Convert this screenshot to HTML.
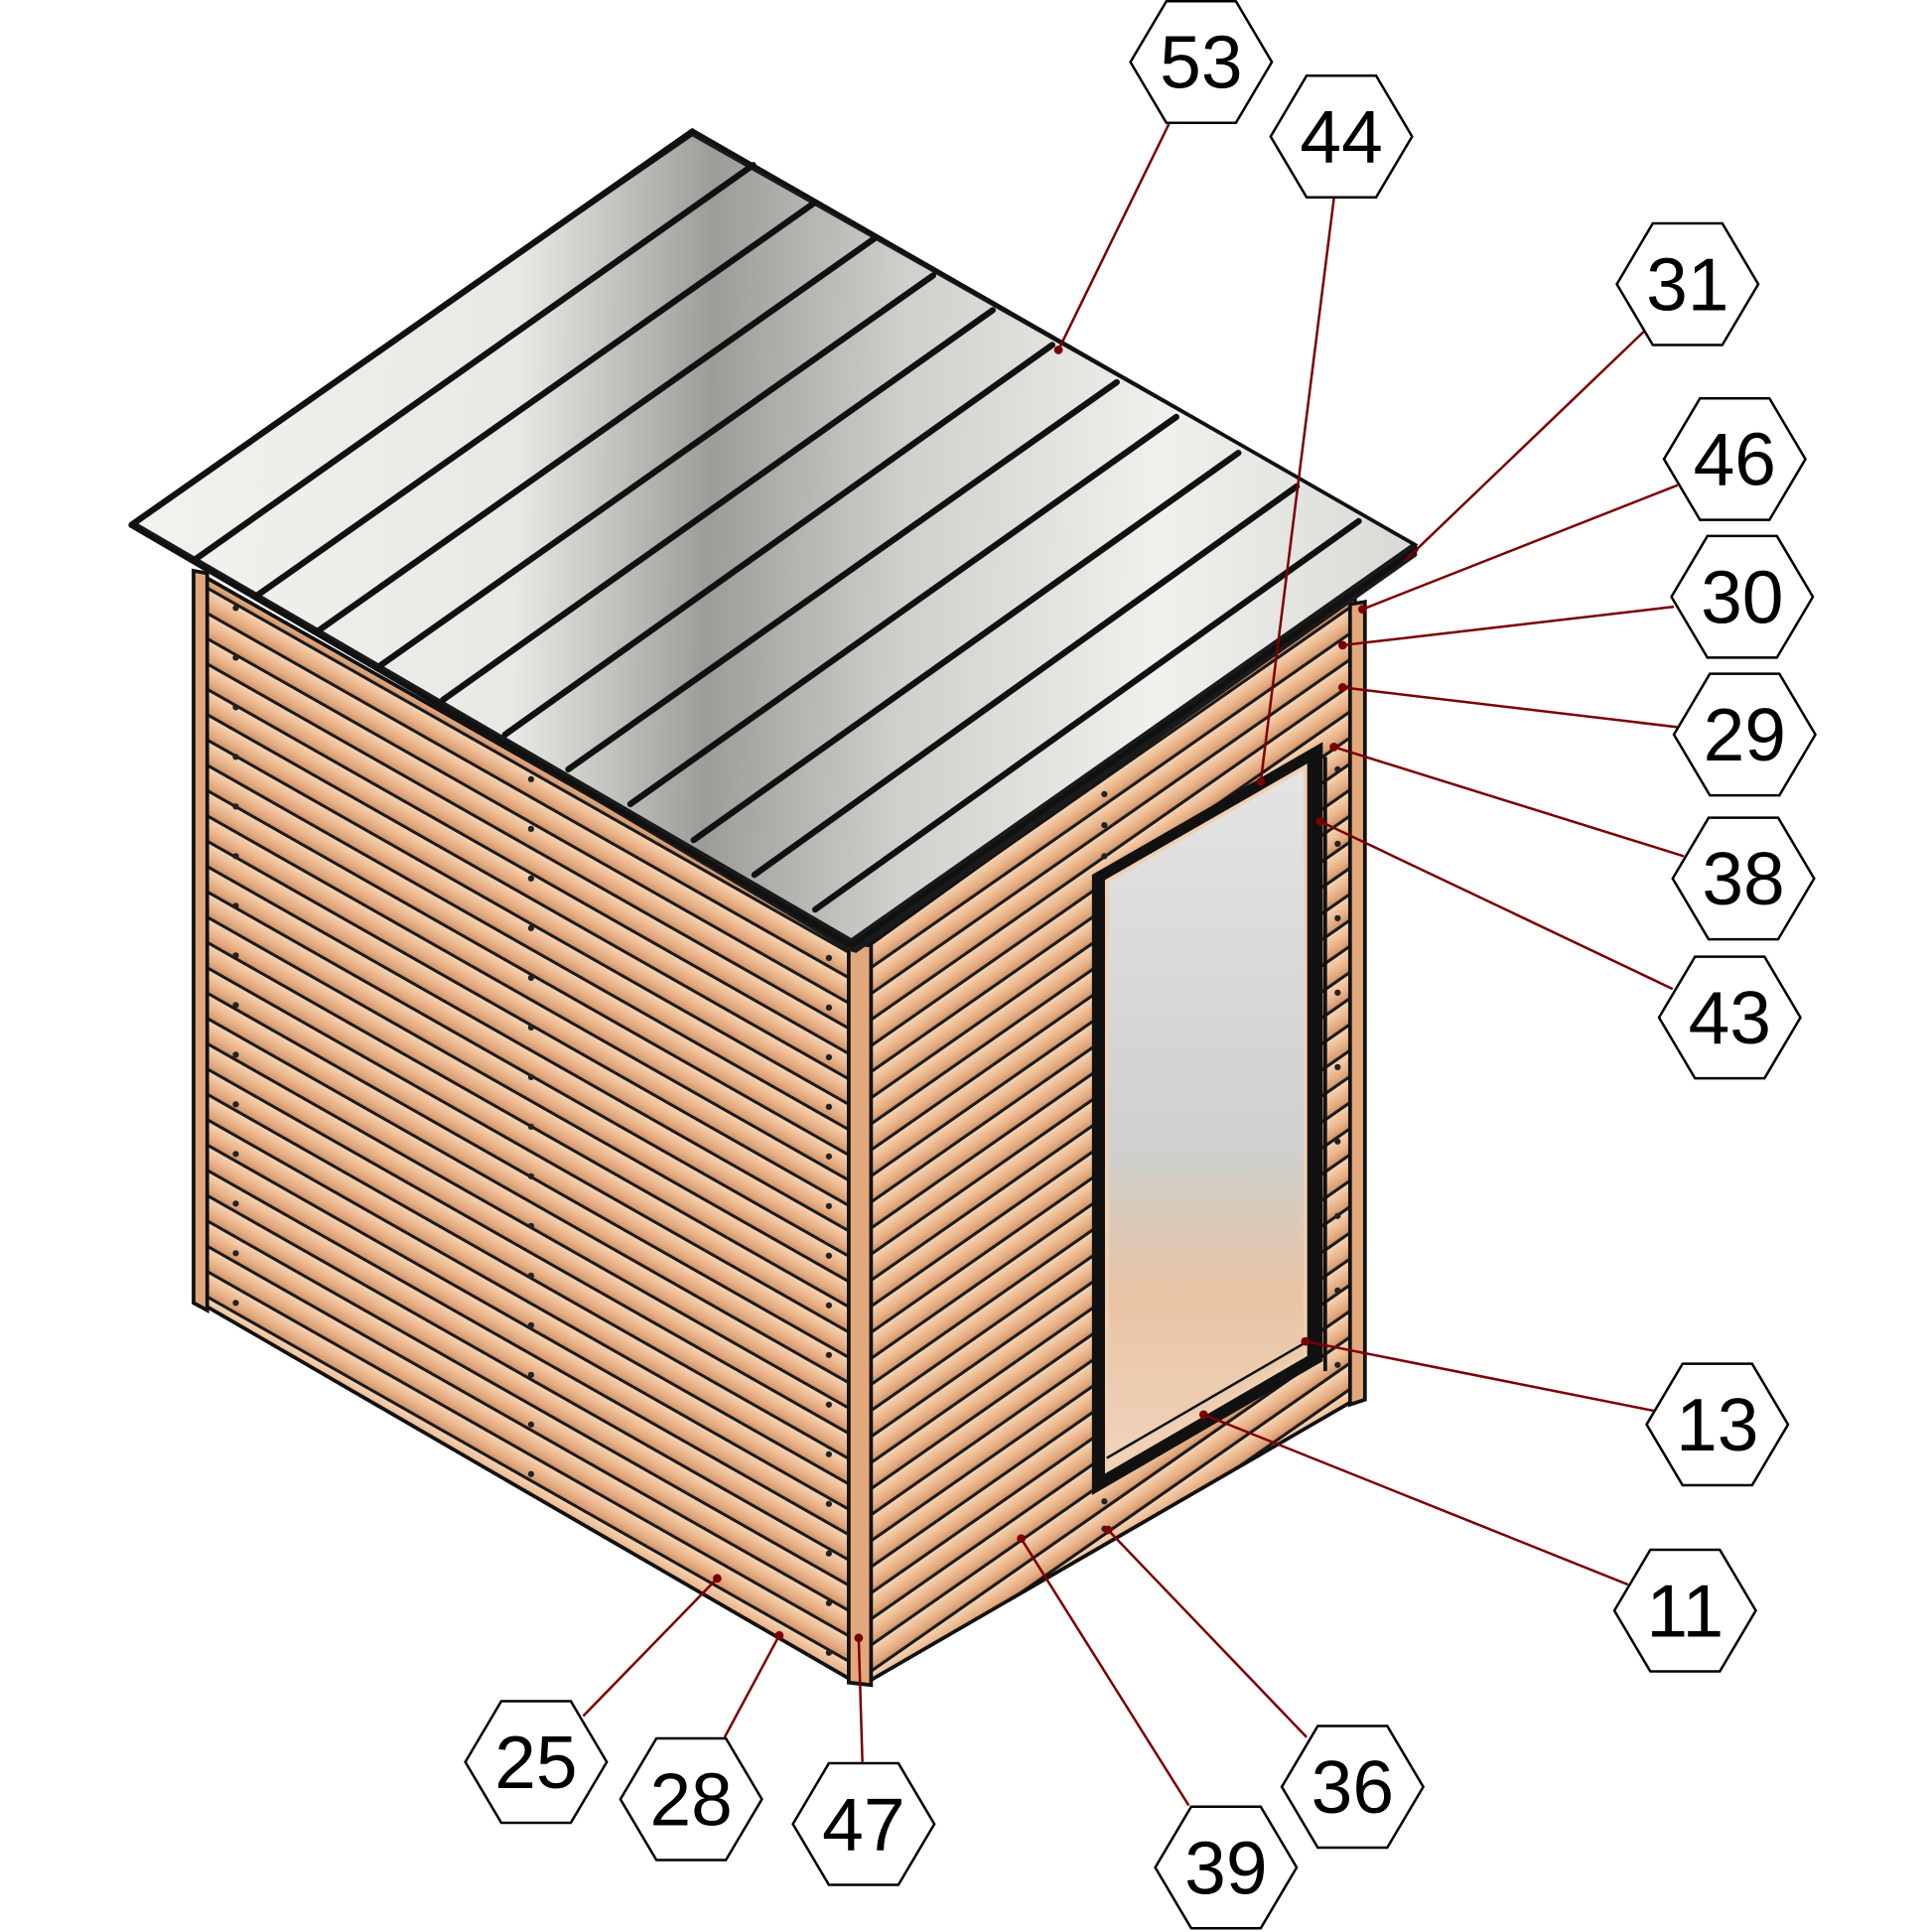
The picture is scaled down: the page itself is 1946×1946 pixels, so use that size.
<!DOCTYPE html>
<html><head><meta charset="utf-8"><style>html,body{margin:0;padding:0;background:#fff}svg{display:block}</style></head>
<body>
<svg width="1946" height="1946" viewBox="0 0 1557 1557" xmlns="http://www.w3.org/2000/svg">
<defs>
<linearGradient id="bg" x1="0" y1="0" x2="0" y2="1">
<stop offset="0" stop-color="#f6d2b0"/><stop offset="0.6" stop-color="#e6ad82"/><stop offset="1" stop-color="#c98a60"/></linearGradient>
<pattern id="pl" patternUnits="userSpaceOnUse" width="2000" height="20.4" patternTransform="translate(0,462) skewY(29.6)">
<rect width="2000" height="20.4" fill="url(#bg)"/><rect y="17.6" width="2000" height="2.8" fill="#1a1a1a"/></pattern>
<pattern id="pr" patternUnits="userSpaceOnUse" width="2000" height="21" patternTransform="translate(0,1250) skewY(-34.9)">
<rect width="2000" height="21" fill="url(#bg)"/><rect y="18" width="2000" height="3" fill="#1a1a1a"/></pattern>
<linearGradient id="roof" x1="105" y1="423" x2="1142" y2="440" gradientUnits="userSpaceOnUse">
<stop offset="0" stop-color="#f2f2ee"/><stop offset="0.3" stop-color="#e8e8e4"/><stop offset="0.45" stop-color="#9c9c98"/><stop offset="0.6" stop-color="#cfcfcb"/><stop offset="0.8" stop-color="#f0f0ec"/><stop offset="1" stop-color="#d8d8d4"/></linearGradient>
<linearGradient id="gl" x1="0" y1="0" x2="0" y2="1">
<stop offset="0" stop-color="#e4e4e4"/><stop offset="0.55" stop-color="#cfcfcd"/><stop offset="0.75" stop-color="#e8c4a4"/><stop offset="1" stop-color="#f0d4bc"/></linearGradient>
</defs>

<polygon points="160,462 688,762 688,1355 165,1052" fill="url(#pl)" stroke="#111" stroke-width="3"/>
<polygon points="700,762 1092,480 1092,1128 700,1355" fill="url(#pr)" stroke="#111" stroke-width="3"/>
<polygon points="156,460 167,462 167,1056 156,1050" fill="#e2a87c" stroke="#111" stroke-width="3"/>
<polygon points="684,760 702,762 702,1358 684,1356" fill="#e2a87c" stroke="#111" stroke-width="3"/>
<polygon points="1088,487 1100,485 1100,1128 1088,1132" fill="#e2a87c" stroke="#111" stroke-width="3"/>
<line x1="1068" y1="610" x2="1068" y2="1105" stroke="#111" stroke-width="3"/>
<polygon points="880,705 1066,598 1066,1097 880,1205" fill="#111"/>
<polygon points="892,710 1052,618 1052,1092 892,1185" fill="url(#gl)" stroke="#f0d0b0" stroke-width="3"/>
<line x1="892" y1="1175" x2="1052" y2="1082" stroke="#111" stroke-width="2"/>
<g fill="#222">
<circle cx="190" cy="490" r="2.5"/><circle cx="190" cy="530" r="2.5"/><circle cx="190" cy="570" r="2.5"/><circle cx="190" cy="610" r="2.5"/><circle cx="190" cy="650" r="2.5"/><circle cx="190" cy="690" r="2.5"/><circle cx="190" cy="730" r="2.5"/><circle cx="190" cy="770" r="2.5"/><circle cx="190" cy="810" r="2.5"/><circle cx="190" cy="850" r="2.5"/><circle cx="190" cy="890" r="2.5"/><circle cx="190" cy="930" r="2.5"/><circle cx="190" cy="970" r="2.5"/><circle cx="190" cy="1010" r="2.5"/><circle cx="190" cy="1050" r="2.5"/>
<circle cx="428" cy="628" r="2.5"/><circle cx="428" cy="668" r="2.5"/><circle cx="428" cy="708" r="2.5"/><circle cx="428" cy="748" r="2.5"/><circle cx="428" cy="788" r="2.5"/><circle cx="428" cy="828" r="2.5"/><circle cx="428" cy="868" r="2.5"/><circle cx="428" cy="908" r="2.5"/><circle cx="428" cy="948" r="2.5"/><circle cx="428" cy="988" r="2.5"/><circle cx="428" cy="1028" r="2.5"/><circle cx="428" cy="1068" r="2.5"/><circle cx="428" cy="1108" r="2.5"/><circle cx="428" cy="1148" r="2.5"/><circle cx="428" cy="1188" r="2.5"/>
<circle cx="668" cy="772" r="2.5"/><circle cx="668" cy="812" r="2.5"/><circle cx="668" cy="852" r="2.5"/><circle cx="668" cy="892" r="2.5"/><circle cx="668" cy="932" r="2.5"/><circle cx="668" cy="972" r="2.5"/><circle cx="668" cy="1012" r="2.5"/><circle cx="668" cy="1052" r="2.5"/><circle cx="668" cy="1092" r="2.5"/><circle cx="668" cy="1132" r="2.5"/><circle cx="668" cy="1172" r="2.5"/><circle cx="668" cy="1212" r="2.5"/><circle cx="668" cy="1252" r="2.5"/><circle cx="668" cy="1292" r="2.5"/><circle cx="668" cy="1332" r="2.5"/>
<circle cx="890" cy="640" r="2.5"/><circle cx="890" cy="665" r="2.5"/><circle cx="890" cy="690" r="2.5"/><circle cx="890" cy="1210" r="2.5"/><circle cx="890" cy="1232" r="2.5"/>
<circle cx="1078" cy="620" r="2.5"/><circle cx="1078" cy="680" r="2.5"/><circle cx="1078" cy="740" r="2.5"/><circle cx="1078" cy="800" r="2.5"/><circle cx="1078" cy="860" r="2.5"/><circle cx="1078" cy="920" r="2.5"/><circle cx="1078" cy="980" r="2.5"/><circle cx="1078" cy="1040" r="2.5"/><circle cx="1078" cy="1100" r="2.5"/>
</g>
<!-- roof -->
<polygon points="105,423 558,105 1142,440 1142,448 690,768 683,766" fill="#1a1a1a"/>
<polygon points="108,420 558,110 1138,438 686,756" fill="url(#roof)"/>
<g stroke="#111" stroke-width="5" stroke-linecap="round">
<line x1="558" y1="106" x2="106" y2="423"/>
<line x1="607" y1="133" x2="157" y2="451"/>
<line x1="657" y1="163" x2="207" y2="480"/>
<line x1="705" y1="192" x2="257" y2="508"/>
<line x1="752" y1="222" x2="307" y2="536"/>
<line x1="800" y1="250" x2="357" y2="564"/>
<line x1="848" y1="278" x2="407" y2="592"/>
<line x1="900" y1="308" x2="458" y2="620"/>
<line x1="948" y1="336" x2="508" y2="648"/>
<line x1="998" y1="365" x2="559" y2="677"/>
<line x1="1045" y1="392" x2="608" y2="705"/>
<line x1="1095" y1="420" x2="657" y2="733"/>
</g>
<polyline points="105,423 558,105 1142,440" fill="none" stroke="#111" stroke-width="3"/>
<polyline points="105,423 686,762 1142,442" fill="none" stroke="#111" stroke-width="4"/>

<g stroke="#7a0000" stroke-width="2" fill="none">
<line x1="942" y1="100" x2="853" y2="282"/>
<line x1="1075" y1="160" x2="1016" y2="630"/>
<line x1="1325" y1="267" x2="1132" y2="452"/>
<line x1="1352" y1="391" x2="1098" y2="491"/>
<line x1="1349" y1="489" x2="1082" y2="520"/>
<line x1="1352" y1="586" x2="1082" y2="554"/>
<line x1="1357" y1="690" x2="1075" y2="602"/>
<line x1="1348" y1="797" x2="1064" y2="662"/>
<line x1="1333" y1="1137" x2="1052" y2="1081"/>
<line x1="1312" y1="1277" x2="970" y2="1140"/>
<line x1="1053" y1="1400" x2="893" y2="1233"/>
<line x1="958" y1="1455" x2="823" y2="1240"/>
<line x1="695" y1="1420" x2="692" y2="1320"/>
<line x1="584" y1="1400" x2="628" y2="1318"/>
<line x1="470" y1="1383" x2="578" y2="1272"/>
</g>
<g fill="#7a0000">
<circle cx="853" cy="282" r="3.5"/><circle cx="1016" cy="630" r="3.5"/><circle cx="1098" cy="491" r="3.5"/><circle cx="1082" cy="520" r="3.5"/><circle cx="1082" cy="554" r="3.5"/><circle cx="1075" cy="602" r="3.5"/><circle cx="1064" cy="662" r="3.5"/><circle cx="1052" cy="1081" r="3.5"/><circle cx="970" cy="1140" r="3.5"/><circle cx="893" cy="1233" r="3.5"/><circle cx="823" cy="1240" r="3.5"/><circle cx="692" cy="1320" r="3.5"/><circle cx="628" cy="1318" r="3.5"/><circle cx="578" cy="1272" r="3.5"/>
</g>

<g font-family="'Liberation Sans', sans-serif" font-size="60" text-anchor="middle" fill="#000">
<g transform="translate(968,50)"><polygon points="-57,0 -28,-49 28,-49 57,0 28,49 -28,49" fill="#fff" stroke="#000" stroke-width="2"/><text y="21">53</text></g>
<g transform="translate(1081,110)"><polygon points="-57,0 -28,-49 28,-49 57,0 28,49 -28,49" fill="#fff" stroke="#000" stroke-width="2"/><text y="21">44</text></g>
<g transform="translate(1360,229)"><polygon points="-57,0 -28,-49 28,-49 57,0 28,49 -28,49" fill="#fff" stroke="#000" stroke-width="2"/><text y="21">31</text></g>
<g transform="translate(1398,370)"><polygon points="-57,0 -28,-49 28,-49 57,0 28,49 -28,49" fill="#fff" stroke="#000" stroke-width="2"/><text y="21">46</text></g>
<g transform="translate(1404,481)"><polygon points="-57,0 -28,-49 28,-49 57,0 28,49 -28,49" fill="#fff" stroke="#000" stroke-width="2"/><text y="21">30</text></g>
<g transform="translate(1406,592)"><polygon points="-57,0 -28,-49 28,-49 57,0 28,49 -28,49" fill="#fff" stroke="#000" stroke-width="2"/><text y="21">29</text></g>
<g transform="translate(1405,708)"><polygon points="-57,0 -28,-49 28,-49 57,0 28,49 -28,49" fill="#fff" stroke="#000" stroke-width="2"/><text y="21">38</text></g>
<g transform="translate(1394,820)"><polygon points="-57,0 -28,-49 28,-49 57,0 28,49 -28,49" fill="#fff" stroke="#000" stroke-width="2"/><text y="21">43</text></g>
<g transform="translate(1384,1148)"><polygon points="-57,0 -28,-49 28,-49 57,0 28,49 -28,49" fill="#fff" stroke="#000" stroke-width="2"/><text y="21">13</text></g>
<g transform="translate(1358,1298)"><polygon points="-57,0 -28,-49 28,-49 57,0 28,49 -28,49" fill="#fff" stroke="#000" stroke-width="2"/><text y="21">11</text></g>
<g transform="translate(1090,1440)"><polygon points="-57,0 -28,-49 28,-49 57,0 28,49 -28,49" fill="#fff" stroke="#000" stroke-width="2"/><text y="21">36</text></g>
<g transform="translate(988,1505)"><polygon points="-57,0 -28,-49 28,-49 57,0 28,49 -28,49" fill="#fff" stroke="#000" stroke-width="2"/><text y="21">39</text></g>
<g transform="translate(696,1470)"><polygon points="-57,0 -28,-49 28,-49 57,0 28,49 -28,49" fill="#fff" stroke="#000" stroke-width="2"/><text y="21">47</text></g>
<g transform="translate(557,1450)"><polygon points="-57,0 -28,-49 28,-49 57,0 28,49 -28,49" fill="#fff" stroke="#000" stroke-width="2"/><text y="21">28</text></g>
<g transform="translate(432,1420)"><polygon points="-57,0 -28,-49 28,-49 57,0 28,49 -28,49" fill="#fff" stroke="#000" stroke-width="2"/><text y="21">25</text></g>
</g>
</svg>
</body></html>
